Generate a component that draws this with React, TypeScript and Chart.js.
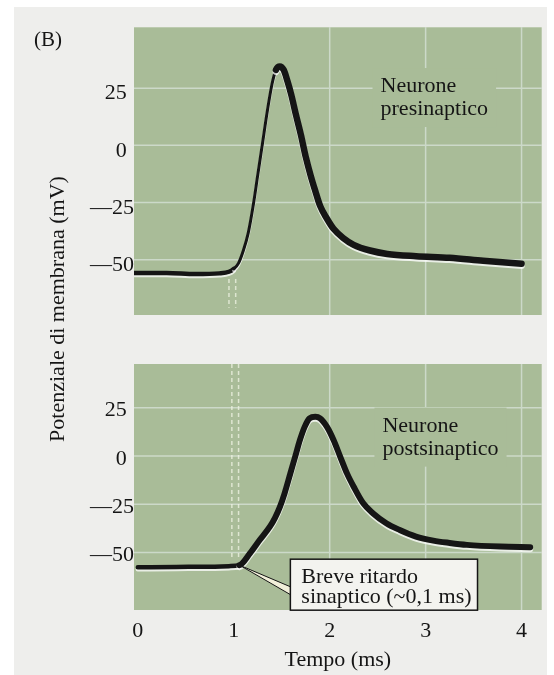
import React, { useEffect, useRef } from "react";
import { Chart, registerables } from "chart.js";

Chart.register(...registerables);

// ---------- data ----------
const xTicks = [0, 1, 2, 3, 4];
const yTicks = [-50, -25, 0, 25];
const yTickLabels = ["—50", "—25", "0", "25"];
const xGridLines = [2, 3, 4];

// Presynaptic neuron (time in ms, potential in mV)
const tPre = [-0.04, 0.3, 0.6, 0.85, 0.95, 1.0, 1.05, 1.1, 1.15, 1.2, 1.25, 1.3, 1.35, 1.4, 1.44, 1.48, 1.52, 1.56, 1.6, 1.65, 1.7, 1.75, 1.8, 1.85, 1.9, 1.97, 2.04, 2.14, 2.25, 2.42, 2.6, 2.9, 3.25, 3.6, 4.0];
const vPre = [-55.8, -55.8, -56.3, -56.0, -55.3, -54.0, -51.5, -46, -38.5, -27, -13, 1, 15, 27, 33, 34.5, 33, 28, 22, 13, 4.5, -5, -13, -20, -26.5, -32, -36.5, -40.5, -43.5, -46, -47.5, -48.5, -49.2, -50.5, -51.8];

// Postsynaptic neuron
const tPost = [0.0, 0.4, 0.75, 0.95, 1.06, 1.17, 1.27, 1.38, 1.43, 1.48, 1.53, 1.59, 1.64, 1.69, 1.74, 1.79, 1.85, 1.9, 1.97, 2.04, 2.11, 2.18, 2.25, 2.35, 2.45, 2.59, 2.73, 2.9, 3.08, 3.25, 3.43, 3.78, 4.09];
const vPost = [-57.6, -57.4, -57.3, -57.0, -56.5, -50.3, -43.5, -36.3, -32.0, -26.5, -19.3, -9.0, -0.4, 8.3, 15.2, 19.5, 20.3, 19.5, 15.2, 8.3, -0.4, -9.0, -15.9, -24.5, -29.6, -34.8, -38.3, -41.7, -43.8, -45.0, -46.0, -46.9, -47.2];

// annotations
const preLabel = ["Neurone", "presinaptico"];
const postLabel = ["Neurone", "postsinaptico"];
const delayLabel = ["Breve ritardo", "sinaptico (~0,1 ms)"];
const xTitle = "Tempo (ms)";
const yTitle = "Potenziale di membrana (mV)";
const panelTag = "(B)";

// ---------- style ----------
const FONT = '"Liberation Serif", "Times New Roman", serif';
const GREEN = "#a9bc98";
const GRID = "rgba(228,236,234,0.6)";
const INK = "#151515";

type Panel = {
  t: number[];
  v: number[];
  xMin: number;
  xMax: number;
  yMin: number;
  yMax: number;
  padTop: number;
  padBottom: number;
  showX: boolean;
  labelOffset: number;
  markers: number[];
  markerSpan: [number, number];
  label: string[];
  labelAt: [number, number];
  widthFn: (x: number) => number;
  delay?: { anchor: [number, number]; boxAt: [number, number]; lines: string[] };
};

function makePlugin(cfg: Panel) {
  return {
    id: "panel",
    beforeDraw(chart: any) {
      const { ctx, chartArea: a } = chart;
      ctx.save();
      ctx.fillStyle = GREEN;
      ctx.fillRect(a.left, a.top, a.right - a.left, a.bottom - a.top);
      ctx.restore();
    },
    beforeDatasetsDraw(chart: any) {
      const { ctx, chartArea: a, scales } = chart;
      const x = scales.x, y = scales.y;
      ctx.save();
      ctx.strokeStyle = GRID;
      ctx.lineWidth = 1.5;
      ctx.beginPath();
      for (const v of yTicks) {
        const py = y.getPixelForValue(v);
        ctx.moveTo(a.left, py);
        ctx.lineTo(a.right, py);
      }
      for (const t of xGridLines) {
        const px = x.getPixelForValue(t);
        ctx.moveTo(px, a.top);
        ctx.lineTo(px, a.bottom);
      }
      ctx.stroke();
      ctx.setLineDash([4, 3]);
      ctx.strokeStyle = "rgba(240,244,228,0.75)";
      ctx.beginPath();
      const y0 = y.getPixelForValue(cfg.markerSpan[0]);
      const y1 = y.getPixelForValue(cfg.markerSpan[1]);
      for (const t of cfg.markers) {
        const px = x.getPixelForValue(t);
        ctx.moveTo(px, y0);
        ctx.lineTo(px, y1);
      }
      ctx.stroke();
      ctx.restore();
    },
    beforeDatasetDraw(chart: any) {
      const ctx = chart.ctx;
      ctx.save();
      ctx.shadowColor = "rgba(255,255,255,0.75)";
      ctx.shadowOffsetX = 0;
      ctx.shadowOffsetY = 2;
      ctx.shadowBlur = 0.5;
    },
    afterDatasetDraw(chart: any) {
      chart.ctx.restore();
    },
    afterDatasetsDraw(chart: any) {
      const { ctx, scales } = chart;
      const x = scales.x, y = scales.y;
      ctx.save();
      ctx.font = `22px ${FONT}`;
      ctx.textBaseline = "alphabetic";
      ctx.textAlign = "left";
      // neuron label with green backing
      const lx = x.getPixelForValue(cfg.labelAt[0]);
      const ly = y.getPixelForValue(cfg.labelAt[1]);
      const lw = Math.max(...cfg.label.map((l) => ctx.measureText(l).width));
      ctx.fillStyle = GREEN;
      ctx.fillRect(lx - 8, ly - 24, lw + 16, 23 * (cfg.label.length - 1) + 36);
      ctx.fillStyle = INK;
      cfg.label.forEach((l, i) => ctx.fillText(l, lx, ly + i * 23));

      if (cfg.delay) {
        const d = cfg.delay;
        const bx = x.getPixelForValue(d.boxAt[0]);
        const by = y.getPixelForValue(d.boxAt[1]);
        const ax = x.getPixelForValue(d.anchor[0]);
        const ay = y.getPixelForValue(d.anchor[1]);
        const tw = Math.max(...d.lines.map((l) => ctx.measureText(l).width));
        const bw = tw + 17;
        const bh = 51;
        // pointer wedge
        ctx.beginPath();
        ctx.moveTo(bx + 1, by + 28);
        ctx.lineTo(ax, ay);
        ctx.lineTo(bx + 1, by + 36);
        ctx.closePath();
        ctx.fillStyle = "#f1efd9";
        ctx.fill();
        ctx.beginPath();
        ctx.moveTo(bx + 1, by + 28);
        ctx.lineTo(ax, ay);
        ctx.lineTo(bx + 1, by + 36);
        ctx.strokeStyle = INK;
        ctx.lineWidth = 1;
        ctx.stroke();
        // box
        ctx.fillStyle = "#f3f3ef";
        ctx.fillRect(bx, by, bw, bh);
        ctx.lineWidth = 1.5;
        ctx.strokeRect(bx, by, bw, bh);
        ctx.fillStyle = INK;
        ctx.fillText(d.lines[0], bx + 11, by + 23.4);
        ctx.fillText(d.lines[1], bx + 11, by + 44);
      }
      ctx.restore();
    },
  };
}

function buildChart(canvas: HTMLCanvasElement, cfg: Panel) {
  const tickFont = { family: FONT, size: 22 };
  return new Chart(canvas, {
    type: "line",
    data: {
      datasets: [
        {
          data: cfg.t.map((tt, i) => ({ x: tt, y: cfg.v[i] })),
          borderColor: INK,
          borderWidth: 5,
          pointRadius: 0,
          fill: false,
          cubicInterpolationMode: "monotone",
          borderCapStyle: "round",
          borderJoinStyle: "round",
          segment: { borderWidth: (c: any) => cfg.widthFn(c.p0.parsed.x) },
        } as any,
      ],
    },
    options: {
      responsive: false,
      maintainAspectRatio: false,
      animation: false,
      events: [],
      layout: { padding: { left: 0, right: 554 - 541.7, top: cfg.padTop, bottom: cfg.padBottom } },
      plugins: { legend: { display: false }, tooltip: { enabled: false } },
      scales: {
        x: {
          type: "linear",
          min: cfg.xMin,
          max: cfg.xMax,
          display: cfg.showX,
          grid: { display: false, drawTicks: false },
          border: { display: false },
          afterBuildTicks: (s: any) => {
            s.ticks = xTicks.map((v) => ({ value: v }));
          },
          afterFit: (s: any) => {
            s.height = cfg.showX ? 65 : 0;
          },
          ticks: {
            font: tickFont,
            color: INK,
            padding: 8,
            maxRotation: 0,
            autoSkip: false,
            callback: (v: any) => String(v),
          },
          title: {
            display: true,
            text: xTitle,
            font: tickFont,
            color: INK,
            padding: { top: 0, bottom: 2 },
          },
        },
        y: {
          type: "linear",
          min: cfg.yMin,
          max: cfg.yMax,
          grid: { display: false, drawTicks: false },
          border: { display: false },
          afterBuildTicks: (s: any) => {
            s.ticks = yTicks.map((v) => ({ value: v }));
          },
          afterFit: (s: any) => {
            s.width = 134;
          },
          ticks: {
            font: tickFont,
            color: INK,
            padding: 0,
            labelOffset: cfg.labelOffset,
            callback: (v: any) => {
              const l = yTickLabels[yTicks.indexOf(v)] ?? String(v);
              return v >= 0 ? l + "\u2004" : l;
            },
          },
        },
      },
    } as any,
    plugins: [makePlugin(cfg) as any],
  });
}

const prePanel: Panel = {
  t: tPre,
  v: vPre,
  xMin: -0.04,
  xMax: 4.21,
  yMin: -74.2,
  yMax: 51.6,
  padTop: 27.3,
  padBottom: 25,
  showX: false,
  labelOffset: 5.5,
  markers: [0.95, 1.02],
  markerSpan: [-58.5, -71],
  label: preLabel,
  labelAt: [2.53, 23.3],
  widthFn: (x) => (x < 0.97 ? 4.5 : x < 1.42 ? 3 : 6.5),
};

const postPanel: Panel = {
  t: tPost,
  v: vPost,
  xMin: -0.04,
  xMax: 4.21,
  yMin: -79.7,
  yMax: 47.6,
  padTop: 24,
  padBottom: 0,
  showX: true,
  labelOffset: 3,
  markers: [0.98, 1.05],
  markerSpan: [47.6, -53],
  label: postLabel,
  labelAt: [2.55, 12.6],
  widthFn: (x) => (x < 1.0 ? 4.5 : 6),
  delay: { anchor: [1.06, -56.5], boxAt: [1.59, -53.4], lines: delayLabel },
};

export default function App() {
  const topRef = useRef<HTMLCanvasElement | null>(null);
  const botRef = useRef<HTMLCanvasElement | null>(null);

  useEffect(() => {
    const c1 = buildChart(topRef.current!, prePanel);
    const c2 = buildChart(botRef.current!, postPanel);
    return () => {
      c1.destroy();
      c2.destroy();
    };
  }, []);

  return (
    <div style={{ position: "absolute", left: 0, top: 0, width: 554, height: 675, background: "#ffffff", overflow: "hidden" }}>
      <div style={{ position: "absolute", left: 14, top: 7, width: 533, height: 668, background: "#eeeeec" }} />
      <canvas ref={topRef} width={554} height={340} style={{ position: "absolute", left: 0, top: 0, width: 554, height: 340 }} />
      <canvas ref={botRef} width={554} height={335} style={{ position: "absolute", left: 0, top: 340, width: 554, height: 335 }} />
      <div
        style={{
          position: "absolute",
          left: 48,
          top: 39,
          transform: "translate(-50%, -50%)",
          font: `21px ${FONT}`,
          lineHeight: "1",
          color: INK,
          whiteSpace: "nowrap",
        }}
      >
        {panelTag}
      </div>
      <div
        style={{
          position: "absolute",
          left: 57,
          top: 309,
          transform: "translate(-50%, -50%) rotate(-90deg)",
          font: `22px ${FONT}`,
          lineHeight: "1",
          color: INK,
          whiteSpace: "nowrap",
        }}
      >
        {yTitle}
      </div>
    </div>
  );
}
